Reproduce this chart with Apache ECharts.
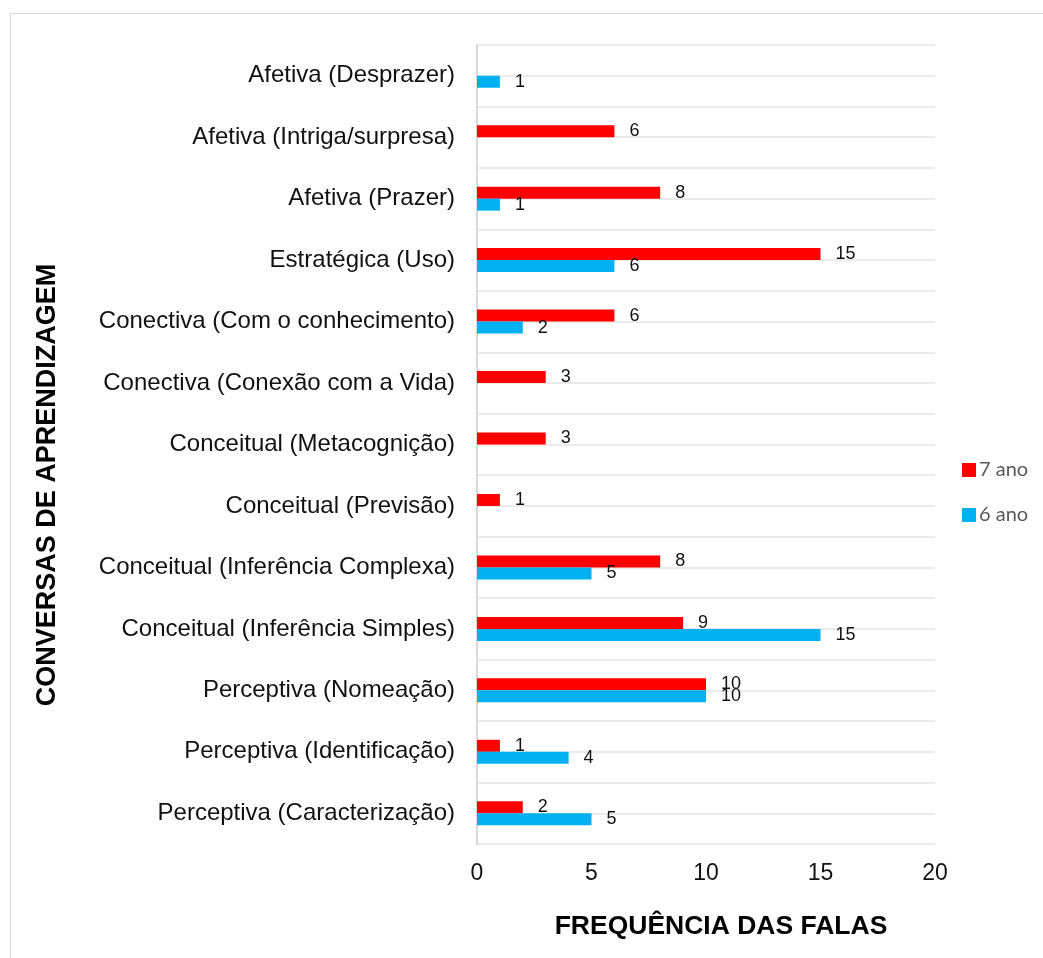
<!DOCTYPE html>
<html>
<head>
<meta charset="utf-8">
<script src="https://cdn.jsdelivr.net/npm/echarts@6/dist/echarts.min.js"></script>
<style>
html,body{margin:0;padding:0;background:#fff;}
#chart{width:1043px;height:958px;}
</style>
</head>
<body>
<div id="chart"></div>
<script>
// Categories, bottom to top
var categories = [
  'Perceptiva (Caracterização)',
  'Perceptiva (Identificação)',
  'Perceptiva (Nomeação)',
  'Conceitual (Inferência Simples)',
  'Conceitual (Inferência Complexa)',
  'Conceitual (Previsão)',
  'Conceitual (Metacognição)',
  'Conectiva (Conexão com a Vida)',
  'Conectiva (Com o conhecimento)',
  'Estratégica (Uso)',
  'Afetiva (Prazer)',
  'Afetiva (Intriga/surpresa)',
  'Afetiva (Desprazer)'
];
var ano7 = [2, 1, 10, 9, 8, 1, 3, 3, 6, 15, 8, 6, null];
var ano6 = [5, 4, 10, 15, 5, null, null, null, 2, 6, 1, null, 1];
var seriesNames = ['7 ano', '6 ano'];
var xTicks = [0, 20, 5];
var xTitle = 'FREQUÊNCIA DAS FALAS';
var yTitle = 'CONVERSAS DE APRENDIZAGEM';

var halfBands = [];
for (var i = 0; i < categories.length * 2; i++) halfBands.push('');

var chart = echarts.init(document.getElementById('chart'));
var labelStyle = {show: true, position: 'right', distance: 15, fontFamily: 'Liberation Sans, Arial', fontSize: 18, color: '#111'};
chart.setOption({
  animation: false,
  grid: {left: 477, right: 108, top: 45, bottom: 114, containLabel: false},
  legend: {
    orient: 'vertical', left: 957, top: 455, itemWidth: 14, itemHeight: 14, itemGap: 25,
    icon: 'rect', data: seriesNames,
    textStyle: {fontFamily: 'Lato', fontSize: 20, color: '#595959', padding: [0,0,0,-2]}
  },
  xAxis: {
    type: 'value', min: xTicks[0], max: xTicks[1], interval: xTicks[2],
    axisLine: {show: false}, axisTick: {show: false}, splitLine: {show: false},
    axisLabel: {fontFamily: 'Liberation Sans, Arial', fontSize: 23, color: '#111', margin: 18}
  },
  yAxis: [{
    type: 'category', data: categories,
    axisLine: {show: true, lineStyle: {color: '#d9d9d9', width: 2}},
    axisTick: {show: false}, splitLine: {show: false},
    axisLabel: {fontFamily: 'Liberation Sans, Arial', fontSize: 24, color: '#111', margin: 22, interval: 0}
  }, {
    type: 'category', data: halfBands, position: 'left',
    axisLine: {show: false}, axisTick: {show: false}, axisLabel: {show: false},
    splitLine: {show: true, interval: 0, lineStyle: {color: '#ebebeb', width: 2}}
  }],
  series: [{
    name: seriesNames[0], type: 'bar', data: ano7, yAxisIndex: 0,
    barWidth: 12, barGap: '0%', itemStyle: {color: '#ff0000'}, label: labelStyle
  }, {
    name: seriesNames[1], type: 'bar', data: ano6, yAxisIndex: 0,
    barWidth: 12, barGap: '0%', itemStyle: {color: '#00b0f0'}, label: labelStyle
  }],
  graphic: [{
    type: 'rect', shape: {x: 10.5, y: 13.5, width: 1100, height: 1000},
    style: {fill: 'none', stroke: '#d9d9d9', lineWidth: 1}, silent: true, z: -10
  }, {
    type: 'text', x: 721, y: 927,
    style: {text: xTitle, font: 'bold 26.5px "Liberation Sans", Arial', fill: '#000', textAlign: 'center', textVerticalAlign: 'middle'}
  }, {
    type: 'text', x: 48, y: 485, rotation: Math.PI / 2,
    style: {text: yTitle, font: 'bold 27px "Liberation Sans", Arial', fill: '#000', textAlign: 'center', textVerticalAlign: 'middle'}
  }]
});
</script>
</body>
</html>
